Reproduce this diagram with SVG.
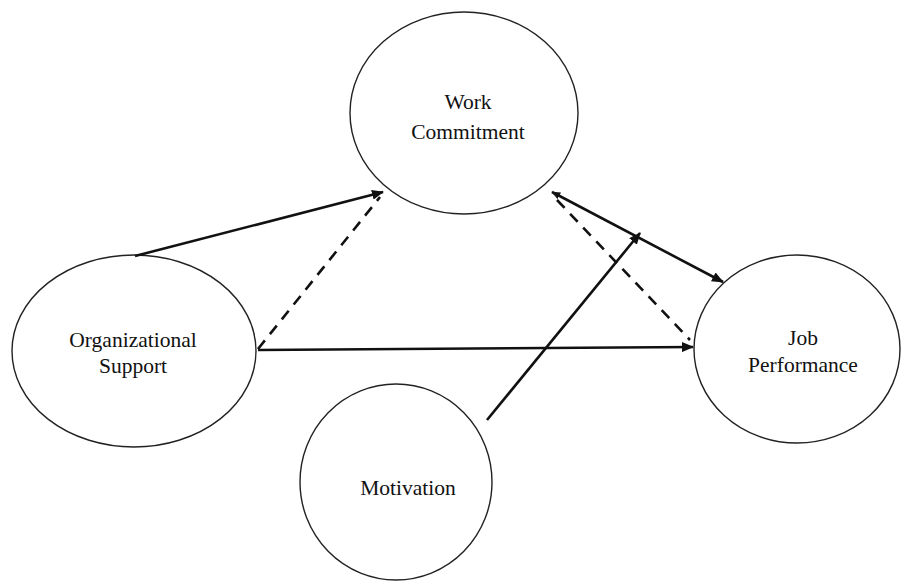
<svg xmlns="http://www.w3.org/2000/svg" width="902" height="582" viewBox="0 0 902 582">
<style>
ellipse{fill:#fff;stroke:#222;stroke-width:1.4}
text{font-family:"Liberation Serif","Times New Roman",serif;font-size:21.5px;fill:#111;text-anchor:middle}
.c{stroke:#111;stroke-width:2.6;fill:none}
.d{stroke:#111;stroke-width:2.6;fill:none;stroke-dasharray:11 8}
</style>
<defs>
<marker id="ah" viewBox="0 0 12 10" refX="11" refY="5" markerWidth="12" markerHeight="10" markerUnits="userSpaceOnUse" orient="auto">
<path d="M0,0 L12,5 L0,10 Z" fill="#111"/>
</marker>
<marker id="as" viewBox="0 0 12 10" refX="1" refY="5" markerWidth="9" markerHeight="8" markerUnits="userSpaceOnUse" orient="auto">
<path d="M12,0 L0,5 L12,10 Z" fill="#111"/>
</marker>
</defs>
<rect width="902" height="582" fill="#fff"/>
<g id="n-work">
<ellipse cx="464" cy="113" rx="114" ry="101"/>
<text x="468" y="109">Work</text>
<text x="468" y="139">Commitment</text>
</g>
<g id="n-org">
<ellipse cx="134" cy="351" rx="122" ry="96"/>
<text x="133" y="347">Organizational</text>
<text x="133" y="373">Support</text>
</g>
<g id="n-job">
<ellipse cx="797" cy="349" rx="103" ry="94"/>
<text x="803" y="345">Job</text>
<text x="803" y="372">Performance</text>
</g>
<g id="n-mot">
<ellipse cx="396" cy="482" rx="96" ry="98"/>
<text x="408" y="495">Motivation</text>
</g>
<g id="connectors">
<line class="c" x1="135" y1="256" x2="383" y2="192" marker-end="url(#ah)"/>
<line class="d" x1="258" y1="349" x2="380" y2="197"/>
<line class="d" x1="557" y1="200" x2="690" y2="340"/>
<line class="c" x1="552" y1="192" x2="723" y2="282" marker-start="url(#as)" marker-end="url(#ah)"/>
<line class="c" x1="487" y1="420" x2="640" y2="233" marker-end="url(#ah)"/>
<line class="c" x1="258" y1="350" x2="693" y2="347" marker-end="url(#ah)"/>
</g>
</svg>
